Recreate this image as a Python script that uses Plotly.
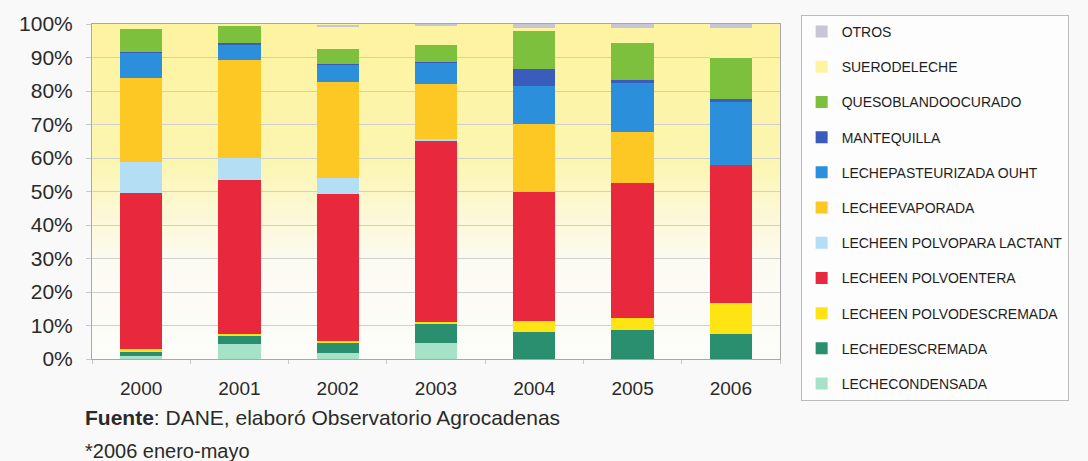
import plotly.graph_objects as go

years = ["2000", "2001", "2002", "2003", "2004", "2005", "2006"]

# series, bottom of stack first (values in %)
condensada = [1.0, 4.6, 1.7, 4.8, 0.0, 0.0, 0.0]
descremada = [1.2, 2.2, 3.1, 5.6, 8.1, 8.6, 7.6]
polvo_descremada = [0.8, 0.8, 0.6, 0.6, 3.2, 3.7, 9.1]
polvo_entera = [46.7, 45.8, 43.8, 54.3, 38.5, 40.2, 41.2]
polvo_lactantes = [9.2, 6.7, 4.7, 0.3, 0.0, 0.0, 0.0]
evaporada = [25.1, 29.3, 28.9, 16.5, 20.4, 15.3, 0.0]
pasteurizada = [7.4, 4.6, 5.0, 6.3, 11.4, 14.7, 18.7]
mantequilla = [0.2, 0.2, 0.3, 0.2, 5.1, 0.8, 1.0]
queso = [6.9, 5.3, 4.4, 5.1, 11.1, 10.9, 12.3]
suero = [1.5, 0.5, 6.8, 5.8, 1.0, 4.6, 8.9]
otros = [0.0, 0.0, 0.5, 0.8, 1.2, 1.2, 1.2]

series_names = [
    "LECHECONDENSADA",
    "LECHEDESCREMADA",
    "LECHEEN POLVODESCREMADA",
    "LECHEEN POLVOENTERA",
    "LECHEEN POLVOPARA LACTANT",
    "LECHEEVAPORADA",
    "LECHEPASTEURIZADA OUHT",
    "MANTEQUILLA",
    "QUESOBLANDOOCURADO",
    "SUERODELECHE",
    "OTROS",
]
series_values = [condensada, descremada, polvo_descremada, polvo_entera,
                 polvo_lactantes, evaporada, pasteurizada, mantequilla,
                 queso, suero, otros]
series_colors = ["#a6e2c8", "#2a8f6e", "#ffe414", "#e8283c", "#b4def4",
                 "#fdc824", "#2c8fdc", "#3a5cbc", "#7cc03e", "#fdf3a0",
                 "#c6c6d6"]

y_tick_vals = [0, 10, 20, 30, 40, 50, 60, 70, 80, 90, 100]
y_tick_text = ["0%", "10%", "20%", "30%", "40%", "50%", "60%", "70%", "80%", "90%", "100%"]

FONT = "Liberation Sans, Arial, sans-serif"

fig = go.Figure()
n_series = len(series_names)
for i, (name, vals, col) in enumerate(zip(series_names, series_values, series_colors)):
    fig.add_trace(go.Bar(
        x=years, y=vals, name=name,
        marker=dict(color=col, line=dict(width=0)),
        legendgroup="g%d" % i,
        legendrank=(n_series - i) * 10,
    ))

# background gradient (yellow at top fading to white)
def lerp(c1, c2, t):
    return tuple(round(a + (b - a) * t) for a, b in zip(c1, c2))

stops = [(0.0, (252, 252, 250)), (0.28, (252, 251, 242)), (0.45, (252, 248, 210)),
         (0.6, (252, 245, 175)), (1.0, (253, 243, 160))]
shapes = []
n = 60
for k in range(n):
    y0 = k / n
    y1 = (k + 1) / n
    ym = (y0 + y1) / 2
    for j in range(len(stops) - 1):
        if stops[j][0] <= ym <= stops[j + 1][0]:
            t = (ym - stops[j][0]) / (stops[j + 1][0] - stops[j][0])
            c = lerp(stops[j][1], stops[j + 1][1], t)
            break
    shapes.append(dict(type="rect", xref="x domain", yref="y domain",
                       x0=0, x1=1, y0=y0, y1=y1 + 0.002, layer="below",
                       line=dict(width=0), fillcolor="rgb(%d,%d,%d)" % c))

fig.update_layout(
    width=1088, height=461,
    margin=dict(l=92, r=308, t=21, b=102),
    paper_bgcolor="#f9f9f9",
    plot_bgcolor="#fdfdfa",
    barmode="stack",
    bargap=0.57,
    shapes=shapes,
    font=dict(family=FONT, color="#2a2a2a"),
    showlegend=True,
    legend=dict(
        x=1.03, y=1.027, xanchor="left", yanchor="top",
        traceorder="grouped",
        bgcolor="#fdfdfd", bordercolor="#bcbcbc", borderwidth=1,
        font=dict(family=FONT, size=14, color="#1e1e1e"),
        tracegroupgap=14,
        itemwidth=30,
        maxheight=450,
    ),
    xaxis=dict(
        showgrid=False, showline=True, linecolor="#a8a8a8", linewidth=1,
        mirror=True, ticks="outside", ticklen=4, tickcolor="#c8c8c8",
        tickson="boundaries",
        tickfont=dict(family=FONT, size=19, color="#2a2a2a"),
        ticklabelstandoff=12,
    ),
    yaxis=dict(
        range=[0, 100], tickvals=y_tick_vals, ticktext=y_tick_text,
        showgrid=True, gridcolor="#cfcfcf", gridwidth=1,
        showline=True, linecolor="#a8a8a8", linewidth=1, mirror=True,
        ticks="outside", ticklen=5, tickcolor="#c8c8c8",
        tickfont=dict(family=FONT, size=21, color="#2a2a2a"),
        ticklabelstandoff=9,
        zeroline=False,
    ),
    annotations=[
        dict(text="<b>Fuente</b>: DANE, elaboró Observatorio Agrocadenas",
             xref="paper", yref="paper", x=-0.013, y=-0.135,
             xanchor="left", yanchor="top", showarrow=False,
             font=dict(family=FONT, size=21, color="#2a2a2a")),
        dict(text="*2006 enero-mayo",
             xref="paper", yref="paper", x=-0.013, y=-0.235,
             xanchor="left", yanchor="top", showarrow=False,
             font=dict(family=FONT, size=20, color="#2a2a2a")),
    ],
)

fig.write_html("out.html")
